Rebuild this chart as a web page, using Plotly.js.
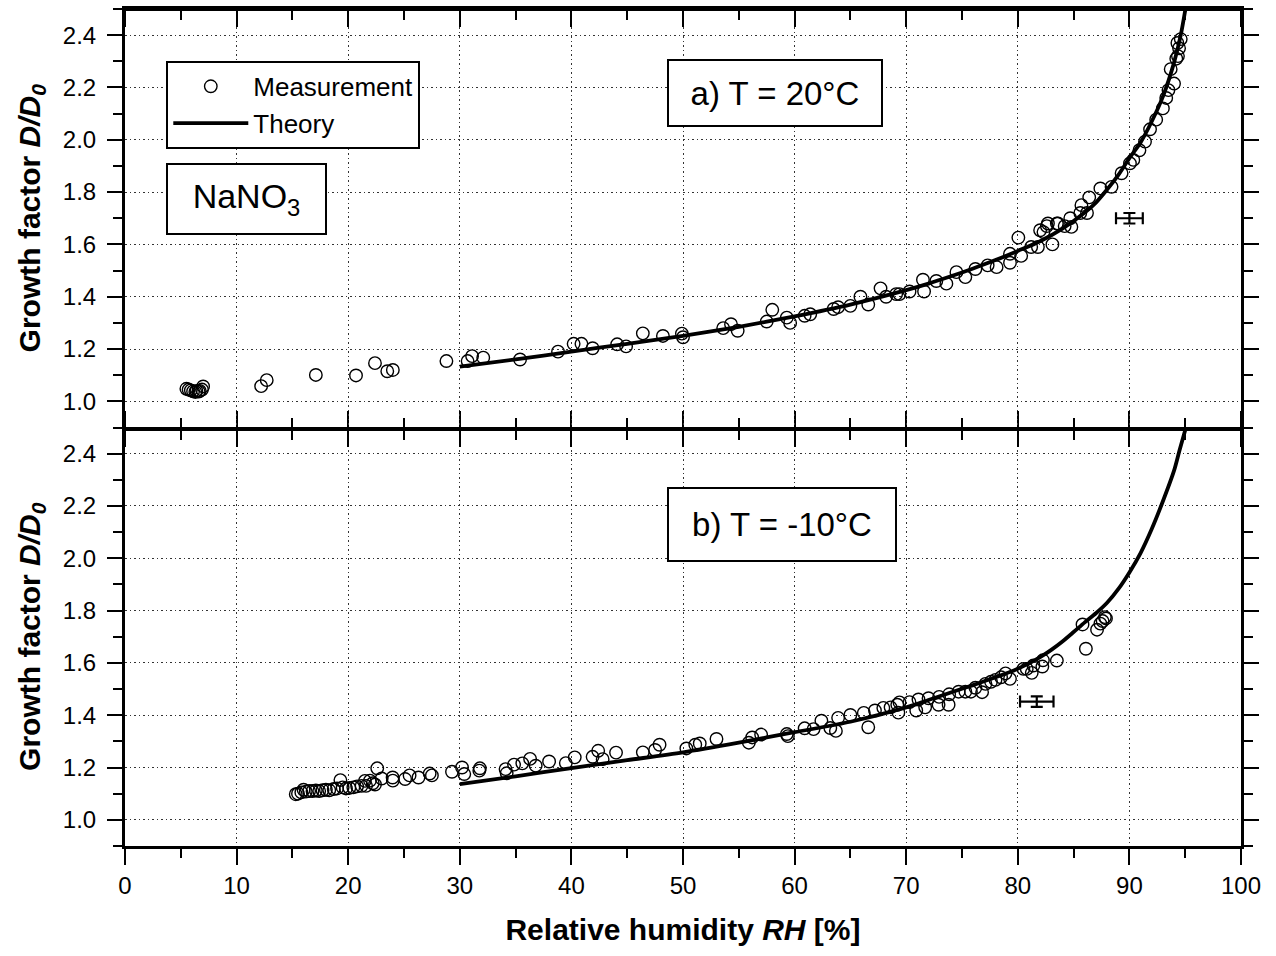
<!DOCTYPE html>
<html>
<head>
<meta charset="utf-8">
<script src="https://cdn.plot.ly/plotly-3.0.1.min.js"></script>
<style>html,body{margin:0;padding:0;background:#fff;}#chart{width:1276px;height:956px;}</style>
</head>
<body>
<div id="chart"></div>
<script>
// ---- Panel a) T = 20°C : measurements ----
const measRH20 = [5.5,5.7,5.9,6.1,6.3,6.4,6.6,6.7,6.9,7.0,12.2,12.7,17.1,20.7,22.4,23.5,24.0,28.8,30.7,31.1,32.1,35.4,38.8,40.2,40.9,41.9,44.1,44.9,46.4,48.2,49.9,50.0,53.6,54.3,54.9,57.5,58.0,59.3,59.6,60.9,61.4,63.5,63.9,65.0,65.9,66.6,67.7,68.2,69.1,69.4,70.3,71.5,71.6,72.7,73.6,74.5,75.3,76.2,77.3,78.1,79.3,79.3,80.05,80.3,81.2,81.8,82.0,82.3,82.6,82.7,83.1,83.5,83.6,84.2,84.7,84.8,85.6,85.7,86.2,86.4,87.4,88.4,89.3,90.05,90.35,90.9,91.4,91.85,92.4,93.0,93.3,93.5,93.7,94.0,94.2,94.3,94.35,94.45,94.6];
const measGF20 = [1.048,1.045,1.042,1.038,1.036,1.040,1.037,1.040,1.045,1.057,1.058,1.081,1.101,1.099,1.146,1.115,1.120,1.154,1.154,1.173,1.167,1.160,1.190,1.220,1.220,1.203,1.218,1.210,1.260,1.250,1.259,1.245,1.280,1.295,1.270,1.305,1.350,1.320,1.300,1.327,1.333,1.353,1.360,1.365,1.400,1.370,1.432,1.400,1.410,1.410,1.420,1.465,1.420,1.460,1.450,1.494,1.475,1.506,1.520,1.513,1.564,1.530,1.626,1.556,1.590,1.590,1.654,1.647,1.670,1.680,1.600,1.680,1.680,1.670,1.700,1.667,1.720,1.750,1.720,1.780,1.814,1.820,1.872,1.910,1.923,1.960,1.993,2.040,2.077,2.120,2.160,2.190,2.270,2.215,2.310,2.370,2.320,2.350,2.385];
// ---- Panel a) theory ----
const theoRH20 = [30,35,40,45,50,55,60,65,70,72,74,76,78,80,82,84,86,87,88,89,90,91,92,93,94,94.6,95.1];
const theoGF20 = [1.133,1.160,1.190,1.220,1.250,1.285,1.325,1.370,1.425,1.450,1.478,1.508,1.540,1.575,1.612,1.660,1.722,1.760,1.810,1.865,1.930,1.990,2.070,2.165,2.295,2.400,2.520];
// ---- Panel b) T = -10°C : measurements ----
const measRHm10 = [15.3,15.5,15.8,16.0,16.2,16.5,16.8,17.1,17.4,17.7,18.0,18.3,18.7,19.0,19.3,19.5,19.8,20.1,20.46,20.8,21.2,21.5,21.6,21.95,22.2,22.4,22.6,23.0,23.98,24.0,25.1,25.5,26.3,27.3,27.5,29.3,30.2,30.4,31.75,31.8,34.1,34.2,34.86,35.6,36.3,36.8,38.0,39.5,40.3,41.9,42.4,42.8,44.0,46.4,47.5,47.9,50.3,51.1,51.5,53.0,55.9,56.2,57.0,59.3,59.4,60.9,61.7,62.4,63.2,63.7,63.9,65.0,66.2,66.6,67.2,67.95,68.6,69.2,69.3,69.4,70.3,70.9,71.1,71.7,72.0,72.9,72.95,73.8,73.85,74.7,75.3,75.8,76.2,76.8,77.1,77.6,78.0,78.5,78.9,79.3,80.5,80.8,81.25,81.4,82.2,82.25,83.5,85.8,86.1,87.1,87.4,87.6,87.8,87.9];
const measGFm10 = [1.098,1.100,1.105,1.115,1.108,1.110,1.110,1.112,1.110,1.113,1.115,1.113,1.118,1.120,1.152,1.124,1.120,1.122,1.124,1.128,1.130,1.149,1.130,1.150,1.140,1.135,1.197,1.158,1.162,1.150,1.156,1.170,1.162,1.177,1.170,1.184,1.200,1.175,1.188,1.197,1.194,1.178,1.211,1.216,1.233,1.207,1.223,1.217,1.239,1.241,1.264,1.232,1.257,1.258,1.267,1.287,1.273,1.287,1.292,1.309,1.295,1.315,1.326,1.328,1.320,1.350,1.347,1.379,1.351,1.340,1.390,1.401,1.409,1.354,1.418,1.428,1.430,1.440,1.410,1.449,1.450,1.418,1.460,1.430,1.465,1.440,1.470,1.440,1.480,1.490,1.490,1.490,1.505,1.488,1.520,1.528,1.535,1.545,1.560,1.539,1.577,1.577,1.562,1.590,1.586,1.610,1.609,1.747,1.654,1.727,1.750,1.760,1.775,1.770];
// ---- Panel b) theory ----
const theoRHm10 = [30,35,40,45,50,55,60,65,70,72,74,76,78,80,81,82,83,84,85,86,87,88,89,90,91,92,93,94,94.5,95.2];
const theoGFm10 = [1.137,1.166,1.198,1.228,1.258,1.295,1.335,1.375,1.430,1.458,1.487,1.515,1.545,1.578,1.598,1.622,1.650,1.682,1.718,1.755,1.790,1.830,1.882,1.946,2.020,2.112,2.218,2.335,2.414,2.520];
// ---- Representative error bars ----
const errRH = [90.0, 81.7];
const errGF = [1.70, 1.452];
const errRHpm = [1.2, 1.5];
const errGFpm = [0.02, 0.02];

const FONT = 'Liberation Sans, Arial, sans-serif';
const markerStyle = {symbol: 'circle-open', size: 12.5, color: 'black', line: {width: 1.4, color: 'black'}};
const lineStyle = {color: 'black', width: 3.8, shape: 'spline', smoothing: 0.8};

const helper = (xa, ya) => ({x: [null], y: [null], xaxis: xa, yaxis: ya, mode: 'markers',
  marker: {size: 1, opacity: 0}, showlegend: false, hoverinfo: 'skip'});

const traces = [
  {x: measRH20, y: measGF20, xaxis: 'x2', yaxis: 'y2', mode: 'markers', name: 'Measurement', marker: markerStyle, showlegend: true},
  {x: theoRH20, y: theoGF20, xaxis: 'x2', yaxis: 'y2', mode: 'lines', name: 'Theory', line: lineStyle, showlegend: true},
  {x: [errRH[0]], y: [errGF[0]], xaxis: 'x2', yaxis: 'y2', mode: 'markers', marker: {size: 1, color: 'black'}, showlegend: false,
   error_x: {type: 'data', array: [errRHpm[0]], color: 'black', thickness: 2.2, width: 6},
   error_y: {type: 'data', array: [errGFpm[0]], color: 'black', thickness: 2.2, width: 6}},
  {x: measRHm10, y: measGFm10, xaxis: 'x', yaxis: 'y', mode: 'markers', marker: markerStyle, showlegend: false},
  {x: theoRHm10, y: theoGFm10, xaxis: 'x', yaxis: 'y', mode: 'lines', line: lineStyle, showlegend: false},
  {x: [errRH[1]], y: [errGF[1]], xaxis: 'x', yaxis: 'y', mode: 'markers', marker: {size: 1, color: 'black'}, showlegend: false,
   error_x: {type: 'data', array: [errRHpm[1]], color: 'black', thickness: 2.2, width: 6},
   error_y: {type: 'data', array: [errGFpm[1]], color: 'black', thickness: 2.2, width: 6}},
  helper('x3', 'y'),
  helper('x4', 'y2'),
  helper('x5', 'y')
];

const tickFont = {family: FONT, size: 24, color: 'black'};
const titleFont = {family: FONT, size: 30, color: 'black'};
const grid = {showgrid: true, gridcolor: '#333', gridwidth: 1, griddash: '1.5px,3px'};
const xRange = [0, 100];
const yRange = [0.9, 2.5];
const xMinor = {dtick: 5, ticks: 'outside', ticklen: 9, tickwidth: 2, tickcolor: 'black', showgrid: false};
const yMinor = {dtick: 0.1, tick0: 0.9, ticks: 'outside', ticklen: 9, tickwidth: 2, tickcolor: 'black', showgrid: false};

// frame axes: outside ticks of an axis placed on the opposite edge point into the plot
const frameX = (over, pos, side) => ({overlaying: over, anchor: 'free', position: pos, side: side,
  range: xRange, dtick: 10, tick0: 0, showgrid: false, zeroline: false, showline: true, linecolor: 'black', linewidth: 3,
  showticklabels: false, ticks: 'outside', ticklen: 16, tickwidth: 2, tickcolor: 'black', minor: xMinor});

const layout = {
  width: 1276, height: 956,
  margin: {l: 125, r: 35, t: 9, b: 110},
  paper_bgcolor: 'white', plot_bgcolor: 'white',
  font: {family: FONT, color: 'black'},
  showlegend: true,
  legend: {x: 0.037, y: 0.938, xanchor: 'left', yanchor: 'top', bgcolor: 'white', bordercolor: 'black', borderwidth: 2,
           font: {family: FONT, size: 26, color: 'black'}, itemwidth: 75, tracegroupgap: 0},
  xaxis: Object.assign({domain: [0, 1], anchor: 'y', range: xRange, dtick: 10, tick0: 0, side: 'bottom',
    showline: true, linecolor: 'black', linewidth: 3, mirror: false,
    ticks: 'outside', ticklen: 16, tickwidth: 2, tickcolor: 'black', tickfont: tickFont, ticklabelstandoff: 0,
    minor: xMinor, zeroline: false,
    title: {text: '<b>Relative humidity <i>RH</i> [%]</b>', font: titleFont, standoff: 22}}, grid),
  yaxis: Object.assign({domain: [0, 0.5], anchor: 'x', range: yRange, dtick: 0.2, tick0: 1.0, tickformat: '.1f',
    showline: true, linecolor: 'black', linewidth: 3, mirror: 'ticks',
    ticks: 'outside', ticklen: 15, tickwidth: 2, tickcolor: 'black', tickfont: tickFont, ticklabelstandoff: 6,
    minor: yMinor, zeroline: false,
    title: {text: '<b>Growth factor <i>D/D<sub>0</sub></i></b>', font: titleFont, standoff: 14}}, grid),
  xaxis2: Object.assign({domain: [0, 1], anchor: 'y2', range: xRange, dtick: 10, tick0: 0, side: 'bottom',
    showline: true, linecolor: 'black', linewidth: 3, mirror: true, showticklabels: false,
    ticks: 'outside', ticklen: 16, tickwidth: 2, tickcolor: 'black', minor: xMinor, zeroline: false}, grid),
  yaxis2: Object.assign({domain: [0.5, 1], anchor: 'x2', range: yRange, dtick: 0.2, tick0: 1.0, tickformat: '.1f',
    showline: true, linecolor: 'black', linewidth: 3, mirror: 'ticks',
    ticks: 'outside', ticklen: 15, tickwidth: 2, tickcolor: 'black', tickfont: tickFont, ticklabelstandoff: 6,
    minor: yMinor, zeroline: false,
    title: {text: '<b>Growth factor <i>D/D<sub>0</sub></i></b>', font: titleFont, standoff: 14}}, grid),
  xaxis3: frameX('x', 0.5, 'top'),      // middle line, ticks pointing up
  xaxis4: frameX('x2', 1.0, 'bottom'),  // top edge, ticks pointing down (inward)
  xaxis5: frameX('x', 0.5, 'bottom'),   // middle line, ticks pointing down
  annotations: [
    {xref: 'x2', yref: 'y2', x: 58.2, y: 2.177, text: 'a) T = 20°C', showarrow: false,
     font: {family: FONT, size: 33, color: 'black'}, bordercolor: 'black', borderwidth: 2, bgcolor: 'white',
     width: 210, height: 62, borderpad: 1, align: 'center', valign: 'middle'},
    {xref: 'x', yref: 'y', x: 58.9, y: 2.128, text: 'b) T = -10°C', showarrow: false,
     font: {family: FONT, size: 33, color: 'black'}, bordercolor: 'black', borderwidth: 2, bgcolor: 'white',
     width: 224, height: 69, borderpad: 1, align: 'center', valign: 'middle'},
    {xref: 'x2', yref: 'y2', x: 10.9, y: 1.773, text: 'NaNO<sub>3</sub>', showarrow: false,
     font: {family: FONT, size: 34, color: 'black'}, bordercolor: 'black', borderwidth: 2, bgcolor: 'white',
     width: 155, height: 66, borderpad: 1, align: 'center', valign: 'middle'}
  ]
};

Plotly.newPlot('chart', traces, layout, {displayModeBar: false, staticPlot: true});
</script>
</body>
</html>
